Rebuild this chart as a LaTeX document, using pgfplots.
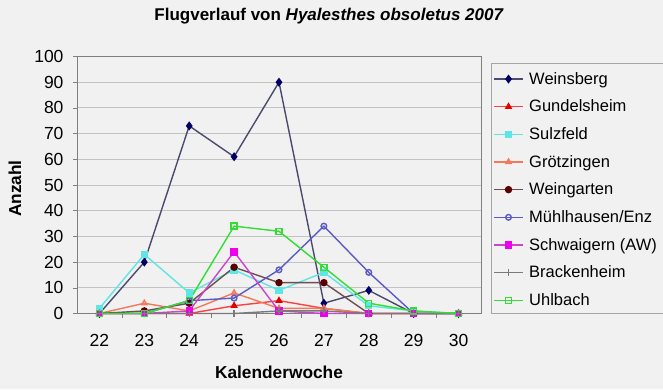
\documentclass[border=0pt]{standalone}
\usepackage{pgfplots}
\pgfplotsset{compat=1.18}
\usepackage{fontspec}
\setmainfont{Liberation Sans}
\definecolor{bg}{HTML}{F1F1F1}
\definecolor{gridc}{HTML}{C4C4C4}
\definecolor{axc}{HTML}{7F7F7F}
\definecolor{cWeinL}{HTML}{4A4A6E}
\definecolor{cWeinM}{HTML}{000066}
\definecolor{cGund}{HTML}{FF4040}
\definecolor{cGundM}{HTML}{E00000}
\definecolor{cSulz}{HTML}{5EE6E6}
\definecolor{cGroe}{HTML}{F07A5A}
\definecolor{cWeinga}{HTML}{6E4E4E}
\definecolor{cWeingaM}{HTML}{5A0000}
\definecolor{cMuehl}{HTML}{5A5AC8}
\definecolor{cSchw}{HTML}{CC44CC}
\definecolor{cSchwM}{HTML}{EE00EE}
\definecolor{cBrack}{HTML}{7A7A7A}
\definecolor{cUhl}{HTML}{33DD33}
\begin{document}
\begin{tikzpicture}[x=1bp,y=1bp]
\fill[bg] (0,0) rectangle (663,389);
\useasboundingbox (0,0) rectangle (663,389);
\draw[axc!70, line width=0.6bp] (491,76) rectangle (700,326);
\begin{axis}[
  at={(77bp,75.5bp)}, anchor=south west,
  scale only axis, width=404bp, height=257bp,
  xmin=21.5, xmax=30.5, ymin=0, ymax=100,
  xtick={22,...,30}, ytick={0,10,...,100},
  minor xtick={22.5,23.5,...,29.5},
  major x tick style={draw=none},
  tick pos=left, tick align=outside,
  major tick length=4bp, minor tick length=4bp,
  tick style={axc, line width=0.6bp},
  ymajorgrids, grid style={gridc, line width=0.8bp},
  axis line style={axc, line width=1bp},
  axis background/.style={fill=bg},
  /pgf/number format/assume math mode=true,
  ticklabel style={font=\fontsize{17.5bp}{20bp}\selectfont},
  yticklabel style={xshift=-6bp},
  xticklabel style={yshift=-13bp},
  title={\textbf{Flugverlauf von \textit{Hyalesthes obsoletus 2007}}},
  title style={at={(axis description cs:0.624,1.134)}, anchor=center, font=\fontsize{17bp}{20bp}\selectfont},
  xlabel={\textbf{Kalenderwoche}},
  xlabel style={at={(axis description cs:0.5,-0.228)}, anchor=center, font=\fontsize{17.3bp}{20bp}\selectfont},
  ylabel={\textbf{Anzahl}},
  ylabel style={at={(axis description cs:-0.1535,0.486)}, anchor=center, rotate=0, font=\fontsize{17.3bp}{20bp}\selectfont},
  legend style={at={(axis description cs:1.03,0.945)}, anchor=north west, draw=none, fill=none,
     font=\fontsize{16.5bp}{18bp}\selectfont, row sep=11.2bp, inner sep=0pt,
     nodes={inner sep=1.5bp},
     /tikz/every odd column/.append style={column sep=4bp}},
  legend cell align=left,
  legend image code/.code={\draw[mark repeat=2,mark phase=2,#1] plot coordinates {(0bp,0bp) (14.5bp,0bp) (29bp,0bp)};},
  every axis plot/.append style={line width=1.4bp, mark size=3bp},
  clip=false,
]
\addplot[cWeinL, mark=diamond*, mark options={fill=cWeinM, draw=cWeinM, mark size=3.4bp}] coordinates {(22,0) (23,20) (24,73) (25,61) (26,90) (27,4) (28,9) (29,0) (30,0)};
\addlegendentry{Weinsberg}
\addplot[cGund, mark=triangle*, mark options={fill=cGundM, draw=cGundM}] coordinates {(22,0) (23,0) (24,0) (25,3) (26,5) (27,2) (28,0) (29,0) (30,0)};
\addlegendentry{Gundelsheim}
\addplot[cSulz, mark=square*, mark options={fill=cSulz, draw=cSulz}] coordinates {(22,2) (23,23) (24,8) (25,17) (26,9) (27,16) (28,3) (29,1) (30,0)};
\addlegendentry{Sulzfeld}
\addplot[cGroe, mark=triangle, mark options={draw=cGroe, fill=white}] coordinates {(22,0) (23,4) (24,1) (25,8) (26,2) (27,2) (28,0) (29,0) (30,0)};
\addlegendentry{Grötzingen}
\addplot[cWeinga, mark=*, mark options={fill=cWeingaM, draw=cWeingaM}] coordinates {(22,0) (23,1) (24,4) (25,18) (26,12) (27,12) (28,0) (29,0) (30,0)};
\addlegendentry{Weingarten}
\addplot[cMuehl, mark=o, mark options={draw=cMuehl, fill=white, mark size=2.8bp}] coordinates {(22,0) (23,0) (24,5) (25,6) (26,17) (27,34) (28,16) (29,0) (30,0)};
\addlegendentry{Mühlhausen/Enz}
\addplot[cSchw, mark=square*, mark options={fill=cSchwM, draw=cSchwM}] coordinates {(22,0) (23,0) (24,1) (25,24) (26,1) (27,0) (28,0) (29,0) (30,0)};
\addlegendentry{Schwaigern (AW)}
\addplot[cBrack, mark=+, mark options={draw=cBrack, mark size=3.5bp}] coordinates {(22,0) (23,0) (24,0) (25,0) (26,1) (27,1) (28,0) (29,0) (30,0)};
\addlegendentry{Brackenheim}
\addplot[cUhl, mark=square, mark options={draw=cUhl, fill=white}] coordinates {(22,0) (23,0) (24,5) (25,34) (26,32) (27,18) (28,4) (29,1) (30,0)};
\addlegendentry{Uhlbach}
\end{axis}
\end{tikzpicture}
\end{document}
